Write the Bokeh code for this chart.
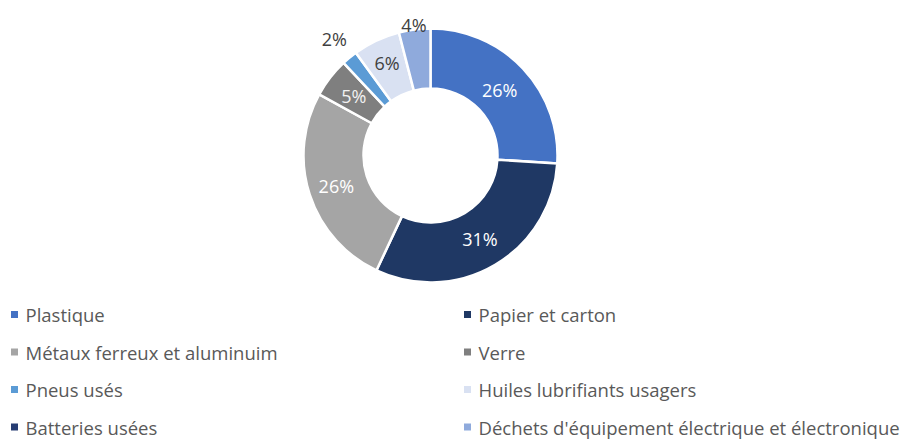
import math
from bokeh.plotting import figure
from bokeh.models import ColumnDataSource, Range1d
from bokeh.core.properties import value
from bokeh.embed import file_html
from bokeh.resources import INLINE

# ---- data ----
categories = ["Plastique", "Papier et carton", "Métaux ferreux et aluminuim", "Verre",
              "Pneus usés", "Huiles lubrifiants usagers", "Batteries usées",
              "Déchets d'équipement électrique et électronique"]
shares = [26, 31, 26, 5, 2, 6, 0, 4]
labels = ["26%", "31%", "26%", "5%", "2%", "6%", "", "4%"]

# ---- style ----
colors = ["#4472C4", "#1F3864", "#A5A5A5", "#7F7F7F", "#5B9BD5", "#D9E1F2", "#263D73", "#8FAADC"]
label_colors = ["white", "white", "white", "#F2F2F2", "#404040", "#404040", "#404040", "#404040"]
label_radius = [95, 97, 99, 97, 151, 102, 97, 132]

W, H = 910, 441
CX, CY = 430, H - 155
R_OUT, R_IN = 127, 67

total = float(sum(shares))
starts, ends, wc = [], [], []
l_x, l_y, l_t, l_c = [], [], [], []
cum = 0.0
for s, lr, col, lab, lc in zip(shares, label_radius, colors, labels, label_colors):
    a0 = cum / total * 2 * math.pi
    cum += s
    a1 = cum / total * 2 * math.pi
    if s <= 0:
        continue
    starts.append(math.pi / 2 - a0)
    ends.append(math.pi / 2 - a1)
    wc.append(col)
    mid = (a0 + a1) / 2
    l_x.append(CX + lr * math.sin(mid))
    l_y.append(CY + lr * math.cos(mid))
    l_t.append(lab)
    l_c.append(lc)

wsrc = ColumnDataSource(dict(start=starts, end=ends, color=wc))
lsrc = ColumnDataSource(dict(x=l_x, y=l_y, text=l_t, color=l_c))

p = figure(width=W, height=H, output_backend="svg", toolbar_location=None,
           x_range=Range1d(0, W), y_range=Range1d(0, H), min_border=0)
p.axis.visible = False
p.grid.visible = False
p.outline_line_color = None
p.background_fill_color = "white"
p.border_fill_color = "white"

p.annular_wedge(x=CX, y=CY, inner_radius=R_IN, outer_radius=R_OUT,
                start_angle="start", end_angle="end", direction="clock",
                fill_color="color", line_color="white", line_width=2.5, source=wsrc)

p.text(x="x", y="y", text="text", text_color="color", source=lsrc,
       text_align="center", text_baseline="middle",
       text_font=value("Open Sans"), text_font_size="18px")

# ---- legend (2 columns) ----
col_x = [14, 467]
row_y0, row_dy = 314, 37.5
sq_x, sq_y, tx, ty = [], [], [], []
for i, c in enumerate(categories):
    row, col = i // 2, i % 2
    sy = H - (row_y0 + row * row_dy)
    sq_x.append(col_x[col])
    sq_y.append(sy)
    tx.append(col_x[col] + 11)
    ty.append(sy)

leg = ColumnDataSource(dict(sx=sq_x, sy=sq_y, tx=tx, ty=ty, text=categories, color=colors))
p.rect(x="sx", y="sy", width=7, height=7, fill_color="color", line_color=None, source=leg)
p.text(x="tx", y="ty", text="text", source=leg, text_color="#595959",
       text_baseline="middle", text_align="left",
       text_font=value("Open Sans"), text_font_size="18.5px")

open("out.html", "w").write(file_html(p, INLINE))
